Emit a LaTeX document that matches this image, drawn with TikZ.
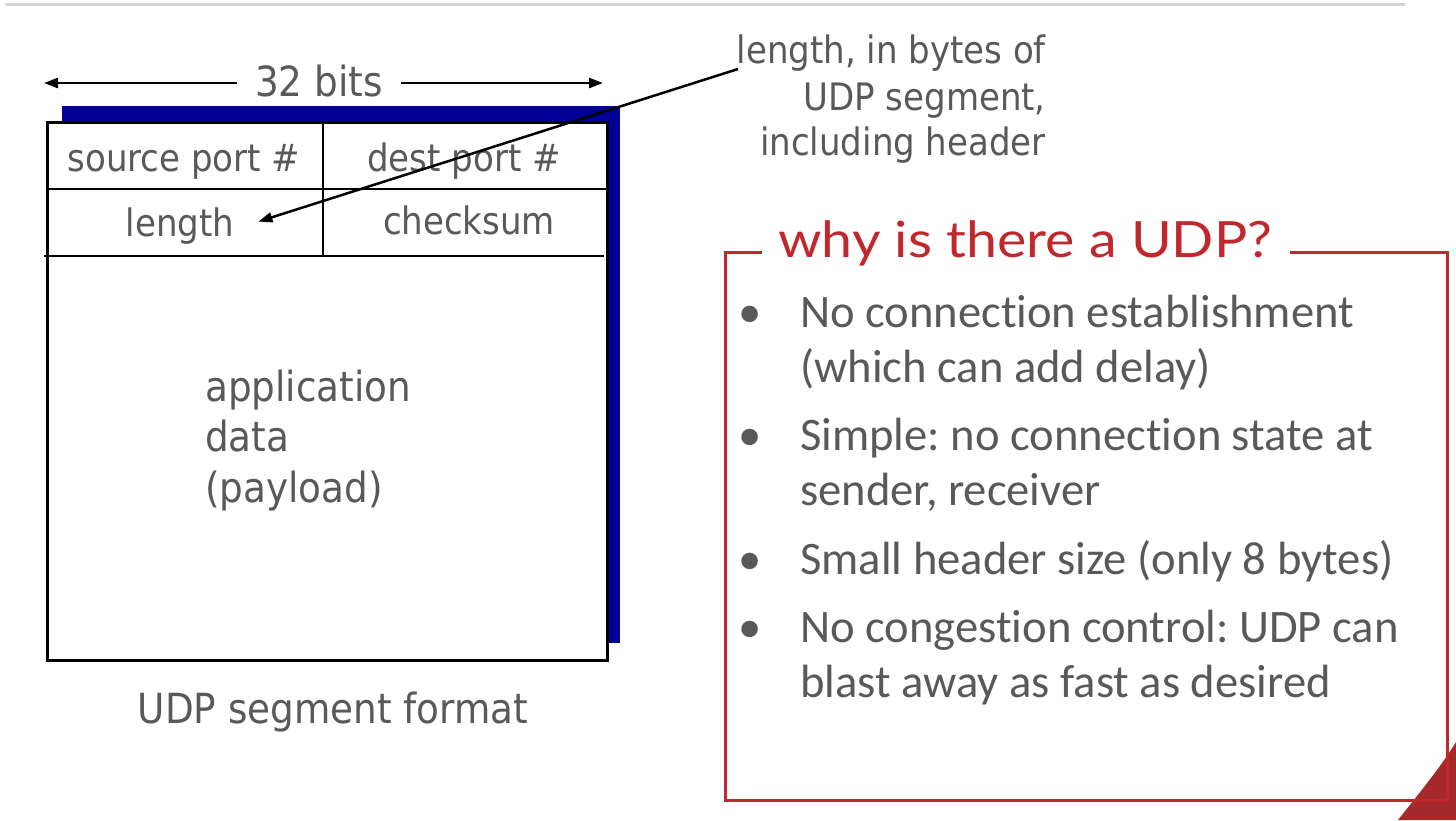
\documentclass[tikz,border=0pt]{standalone}
\usepackage{fontspec}
\setmainfont{Carlito}[Ligatures={NoCommon}]
\newfontfamily\hdrfont{DejaVu Sans Condensed}
\newfontfamily\titlefont{Lato}[FakeStretch=1.11]
\usetikzlibrary{arrows.meta}
\definecolor{txtgray}{HTML}{595959}
\definecolor{navyshadow}{HTML}{000099}
\definecolor{boxred}{HTML}{C0282D}
\definecolor{cornerred}{HTML}{A5282B}
\definecolor{rulegray}{HTML}{D6D6D6}
\frenchspacing
\begin{document}
\begin{tikzpicture}[x=1pt,y=-1pt,
  hdr/.style={font=\hdrfont\fontsize{37.8}{45}\selectfont, text=txtgray, inner sep=0pt},
  big/.style={font=\hdrfont\fontsize{41.5}{50}\selectfont, text=txtgray, inner sep=0pt},
  bul/.style={font=\fontsize{46.6}{55}\selectfont, text=txtgray, inner sep=0pt, anchor=base west},
  dot/.style={font=\fontsize{46.6}{55}\selectfont, text=txtgray, inner sep=0pt, anchor=base},
  arr/.style={line width=2.5pt, -{Triangle[length=14pt,width=10pt]}},
  rule/.style={line width=2.5pt}]
\useasboundingbox (0,0) rectangle (1456,820);

% slide decorations
\draw[rulegray, line width=3pt] (5,4) -- (1405,4);
\fill[cornerred] (1398,820) .. controls (1420,792) and (1440,768) .. (1456,742) -- (1456,820) -- cycle;

% segment layout: shadow, frame, field dividers
\fill[navyshadow] (62,106) rectangle (620,643);
\draw[fill=white, line width=3pt] (47,122) rectangle (607,660);
\draw[rule] (47,189) -- (606,189);
\draw[rule] (44,256) -- (604,256);
\draw[rule] (323,122) -- (323,256);

% field labels
\node[hdr, anchor=base] (srcport) at (184,171) {source port \#};
\node[hdr, anchor=base] (dstport) at (464,171) {dest port \#};
\node[hdr, anchor=base] (lenfield) at (180,236) {length};
\node[hdr, anchor=base] (cksum) at (469,234) {checksum};
\node[big, anchor=base west] (app1) at (205,401) {application};
\node[big, anchor=base west] (app2) at (205,451) {data};
\node[big, anchor=base west] (app3) at (205,502) {(payload)};
\node[big, anchor=base] (caption) at (333,723) {UDP segment format};

% width dimension
\node[big, anchor=base] (width) at (319,96) {32 bits};
\coordinate (wl) at (44,83);
\coordinate (wr) at (603,83);
\draw[arr] ([xshift=-18pt]width.west |- wl) -- (wl);
\draw[arr] ([xshift=18pt]width.east |- wr) -- (wr);

% length annotation
\node[hdr, anchor=base east] (ann1) at (1046,63) {length, in bytes of};
\node[hdr, anchor=base east] (ann2) at (1046,110) {UDP segment,};
\node[hdr, anchor=base east] (ann3) at (1046,155) {including header};
\coordinate (annfoot) at (738,69);
\draw[arr] (annfoot) -- ([xshift=24pt,yshift=4pt]lenfield.east);

% why UDP box
\draw[boxred, line width=3pt] (762,252) -- (725,252) -- (725,800) -- (1447,800) -- (1447,252) -- (1290,252);
\node[font=\titlefont\fontsize{50}{60}\selectfont, text=boxred, inner sep=0pt, anchor=base west] (title) at (778,257) {why is there a UDP?};

\node[dot] (d1) at (750,327) {•};
\node[bul] (b1a) at (800,327) {No connection establishment};
\node[bul] (b1b) at (800,382) {(which can add delay)};
\node[dot] (d2) at (750,450) {•};
\node[bul] (b2a) at (800,450) {Simple: no connection state at};
\node[bul] (b2b) at (800,505) {sender, receiver};
\node[dot] (d3) at (750,574) {•};
\node[bul] (b3a) at (800,574) {Small header size (only 8 bytes)};
\node[dot] (d4) at (750,642) {•};
\node[bul] (b4a) at (800,642) {No congestion control: UDP can};
\node[bul] (b4b) at (800,697) {blast away as fast as desired};
\end{tikzpicture}
\end{document}
